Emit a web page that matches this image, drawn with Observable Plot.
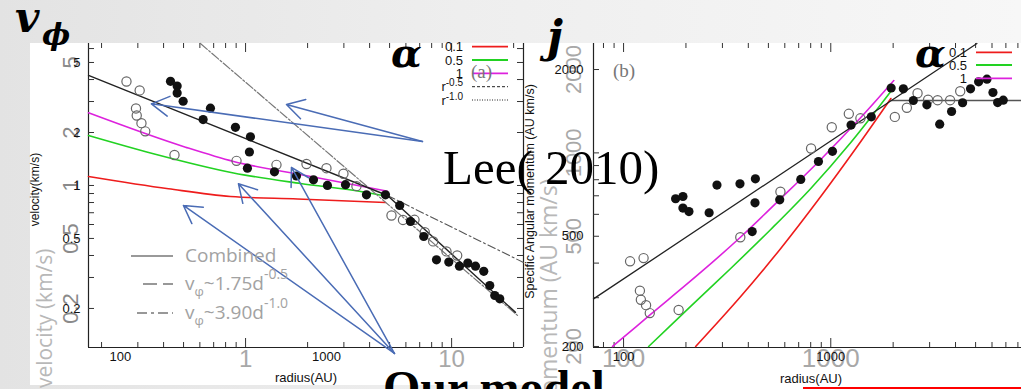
<!DOCTYPE html>
<html>
<head>
<meta charset="utf-8">
<script src="https://cdn.jsdelivr.net/npm/d3@7"></script>
<script src="https://cdn.jsdelivr.net/npm/@observablehq/plot@0.6"></script>
<style>
  html, body { margin: 0; padding: 0; }
  body { width: 1021px; height: 389px; overflow: hidden;
         background: linear-gradient(to right, #e3e3e3 0%, #eeeeee 45%, #f7f7f7 100%); }
  #stage { position: relative; width: 1021px; height: 389px; overflow: hidden; }
  .sheet { position: absolute; background: #fff; }
  .chart { position: absolute; top: 0; }
  .chart svg { overflow: visible; max-width: none; }
  #overlay { position: absolute; left: 0; top: 0; overflow: visible; }
</style>
</head>
<body>
<div id="stage">
  <div class="sheet" style="left:30px;top:43px;width:493px;height:342px"></div>
  <div class="sheet" style="left:523px;top:43px;width:498px;height:346px"></div>
  <div id="chartA" class="chart" style="left:0;width:540px;height:389px"></div>
  <div id="chartB" class="chart" style="left:520px;width:520px;height:389px"></div>
  <svg id="overlay" width="1021" height="389"></svg>
</div>
<script>
// ---------- shared ----------
const alphaLabels = ["0.1", "0.5", "1"];
const alphaColors = ["#ee1c1c", "#22d222", "#dd22dd"];
const ghostUnit = 405;               // AU per unit of the superimposed radius axis
const ghostXLabels = [1, 10];

// ---------- panel (a): rotation velocity (km/s) vs radius (AU) ----------
const velOpenR = [107, 124, 119, 120, 126.5, 132, 183, 366, 572, 800, 1000, 1209, 1398, 2068, 2352, 2675, 3001, 3296, 3824, 4310];
const velOpenV = [3.90, 3.47, 2.74, 2.50, 2.26, 2.03, 1.49, 1.38, 1.31, 1.325, 1.254, 1.166, 0.991, 0.675, 0.637, 0.638, 0.543, 0.481, 0.422, 0.400];
const velFilledR = [175, 188.5, 188.5, 201.6, 273.5, 252, 361.6, 427.6, 422.8, 413.4, 559.2, 715.1, 864.9, 1011, 1237, 1564, 1934, 2267, 2557, 2967, 3420, 3924, 4421, 4852, 5289, 5801, 6204, 6561, 6937];
const velFilledV = [3.91, 3.67, 3.35, 3.01, 2.75, 2.37, 2.14, 1.89, 1.55, 1.254, 1.196, 1.132, 1.077, 1.0, 1.01, 0.885, 0.885, 0.770, 0.624, 0.513, 0.378, 0.367, 0.348, 0.362, 0.348, 0.325, 0.270, 0.237, 0.227];
const velA01R = [70, 171, 342, 723, 1934];
const velA01V = [1.125, 0.958, 0.866, 0.838, 0.80];
const velA05R = [70, 143, 354, 748, 1512, 1978];
const velA05V = [1.923, 1.52, 1.178, 1.026, 0.919, 0.866];
const velA1R = [70, 207, 354, 791, 1971];
const velA1V = [2.59, 1.651, 1.369, 1.14, 0.928];
const velCombinedR = [70, 1978, 8268];
const velCombinedV = [4.22, 0.877, 0.190];
const velPow10R = [244.5, 8455];
const velPow10V = [6.41, 0.1826];
const velPow05R = [1978, 9044];
const velPow05V = [0.877, 0.365];
const velTickLabels = [5, 2, 1, 0.5, 0.2];
const velXLabels = [100, 1000];
// annotation arrows (tail -> head), in panel (a) data units
const arrowFromR = [2924, 2924, 2138, 2138, 2138];
const arrowFromV = [1.778, 1.778, 0.111, 0.111, 0.111];
const arrowToR = [141.4, 639.5, 202.2, 374, 676.3];
const arrowToV = [2.91, 2.885, 0.770, 1.022, 1.266];

// ---------- panel (b): specific angular momentum (AU km/s) vs radius (AU) ----------
const jOpenR = [107.5, 124.9, 119.9, 121.2, 128.4, 133.8, 184.4, 365.9, 571.5, 803.3, 1011, 1222, 1390, 2038, 2329, 2623, 2949, 3278, 3765, 4214];
const jOpenJ = [406, 417, 318, 295, 282, 264, 271, 496, 724, 1037, 1238, 1384, 1333, 1349, 1455, 1642, 1556, 1550, 1550, 1670];
const jFilledR = [178.3, 193.4, 193.4, 206.8, 258.8, 282.3, 364.6, 432.7, 430.8, 417.6, 567.1, 716.3, 872.1, 1019, 1253, 1569, 1956, 2240, 2503, 2910, 3355, 3829, 4327, 4726, 5170, 5670, 6062, 6388, 6799];
const jFilledJ = [683, 696, 632, 614, 608, 765, 773, 806, 660, 520, 677, 802, 931, 1013, 1260, 1350, 1715, 1704, 1546, 1491, 1270, 1411, 1517, 1704, 1806, 1845, 1652, 1520, 1550];
const jA01R = [222.8, 367.5, 573.5, 894.5, 1320.5, 1950];
const jA01J = [200, 303, 452, 696, 1037, 1572];
const jA05R = [132.1, 210.7, 328.8, 513.1, 800.8, 1249, 2015];
const jA05J = [200, 279, 382.5, 529, 744, 1090, 1722];
const jA1R = [88.5, 135, 235.5, 367.5, 573.5, 894.5, 1396, 2015];
const jA1J = [200, 261, 370, 497, 684, 947, 1342, 1825];
const jFitR = [71.6, 5074];
const jFitJ = [297, 2483];
const jFlatR = [1956, 9000];
const jFlatJ = [1546, 1546];
const jTickLabels = [2000, 500, 200];
const jGhostLabels = [2000, 1000, 500, 200];
const jXLabels = [100, 1000];

const sans = "'Liberation Sans', Arial, sans-serif";
const isDecade = v => Math.abs(Math.log10(v) - Math.round(Math.log10(v))) < 1e-9;

// ---------- draw panel (a) ----------
{
  const xDom = [70, 9044], yDom = [0.12, 6.41];
  const W = 435, H = 304;
  const gx = d3.scaleLog().domain([xDom[0] / ghostUnit, xDom[1] / ghostUnit]).ticks().map(u => u * ghostUnit);
  const gxMajor = gx.filter(v => isDecade(v / ghostUnit));
  const gxMinor = gx.filter(v => !isDecade(v / ghostUnit));
  const yt = d3.scaleLog().domain(yDom).ticks();
  const series = [[velA01R, velA01V], [velA05R, velA05V], [velA1R, velA1V]];

  const plotA = Plot.plot({
    width: 540, height: 389,
    marginLeft: 88, marginRight: 17, marginTop: 43, marginBottom: 42,
    style: { background: "transparent", fontFamily: sans, overflow: "visible" },
    x: { type: "log", domain: xDom, axis: null },
    y: { type: "log", domain: yDom, axis: null },
    marks: [
      // frame
      Plot.ruleX([xDom[0], xDom[1]], { stroke: "#222", strokeWidth: 1.2 }),
      Plot.ruleY([yDom[0]], { stroke: "#222", strokeWidth: 1.2 }),
      Plot.tickX(gxMinor, { x: d => d, insetTop: H - 5, stroke: "#333" }),
      Plot.tickX(gxMajor, { x: d => d, insetTop: H - 9, stroke: "#333" }),
      Plot.tickX(gxMinor, { x: d => d, insetBottom: H - 5, stroke: "#333" }),
      Plot.tickX(gxMajor, { x: d => d, insetBottom: H - 9, stroke: "#333" }),
      Plot.tickY(yt, { y: d => d, insetRight: W - 6, stroke: "#333" }),
      Plot.tickY(yt, { y: d => d, insetLeft: W - 6, stroke: "#333" }),
      // tick labels (rotated grey copy underneath)
      Plot.text(velTickLabels, { y: d => d, text: d => String(d), frameAnchor: "left", dx: -18, rotate: -90, textAnchor: "middle", fontSize: 22, fill: "#8a8a8a" }),
      Plot.text(velTickLabels, { y: d => d, text: d => String(d), frameAnchor: "left", dx: -8, textAnchor: "end", fontSize: 13, fill: "#111" }),
      Plot.text(ghostXLabels, { x: d => d * ghostUnit, text: d => String(d), frameAnchor: "bottom", dy: 19, fontSize: 24, fill: "#a8a8a8" }),
      Plot.text(velXLabels, { x: d => d, text: d => String(d), frameAnchor: "bottom", dy: 13, fontSize: 13, fill: "#111" }),
      Plot.text(["radius(AU)"], { text: d => d, frameAnchor: "bottom", dy: 34, fontSize: 13, fill: "#111" }),
      Plot.text(["velocity (km/s)"], { text: d => d, frameAnchor: "left", dx: -43, dy: 53, rotate: -90, textAnchor: "end", fontSize: 21, fill: "#b8b8b8", fontFamily: "'Open Sans', sans-serif" }),
      Plot.text(["velocity(km/s)"], { text: d => d, frameAnchor: "left", dx: -53, dy: -6, rotate: -90, textAnchor: "middle", fontSize: 12, fill: "#111" }),
      // model curves
      ...series.map(([r, v], i) => Plot.line(d3.zip(r, v), { stroke: alphaColors[i], strokeWidth: 1.6, curve: "monotone-x" })),
      // power laws
      Plot.line(d3.zip(velPow10R, velPow10V), { stroke: "#777", strokeWidth: 1.2, strokeDasharray: "9 2 2 2" }),
      Plot.line(d3.zip(velPow05R, velPow05V), { stroke: "#555", strokeWidth: 1.1, strokeDasharray: "8 3 2 3" }),
      Plot.line(d3.zip(velCombinedR, velCombinedV), { stroke: "#222", strokeWidth: 1.4 }),
      // observations
      Plot.dot(d3.zip(velOpenR, velOpenV), { r: 4.6, stroke: "#666", strokeWidth: 1.2, fill: "none" }),
      Plot.dot(d3.zip(velFilledR, velFilledV), { r: 4.6, fill: "#111", stroke: "none" }),
      // annotation arrows
      Plot.arrow(d3.range(arrowFromR.length), {
        x1: i => arrowFromR[i], y1: i => arrowFromV[i], x2: i => arrowToR[i], y2: i => arrowToV[i],
        stroke: "#4a6cb5", strokeWidth: 1.5, headLength: 20, headAngle: 60
      })
    ]
  });
  document.getElementById("chartA").append(plotA);
}

// ---------- draw panel (b) ----------
{
  const xDom = [71.6, 9000], yDom = [198.3, 2483];
  const W = 435, H = 304;
  const xt = d3.scaleLog().domain(xDom).ticks();
  const xMajor = xt.filter(isDecade), xMinor = xt.filter(v => !isDecade(v));
  const yt = d3.scaleLog().domain(yDom).ticks();
  const series = [[jA01R, jA01J], [jA05R, jA05J], [jA1R, jA1J]];

  const plotB = Plot.plot({
    width: 520, height: 389,
    marginLeft: 73, marginRight: 12, marginTop: 43, marginBottom: 42,
    style: { background: "transparent", fontFamily: sans, overflow: "visible" },
    x: { type: "log", domain: xDom, axis: null },
    y: { type: "log", domain: yDom, axis: null },
    marks: [
      Plot.ruleX([xDom[0]], { stroke: "#222", strokeWidth: 1.2 }),
      Plot.ruleY([yDom[0]], { stroke: "#222", strokeWidth: 1.2 }),
      Plot.tickX(xMinor, { x: d => d, insetTop: H - 5, stroke: "#333" }),
      Plot.tickX(xMajor, { x: d => d, insetTop: H - 9, stroke: "#333" }),
      Plot.tickX(xMinor, { x: d => d, insetBottom: H - 5, stroke: "#333" }),
      Plot.tickX(xMajor, { x: d => d, insetBottom: H - 9, stroke: "#333" }),
      Plot.tickY(yt, { y: d => d, insetRight: W - 6, stroke: "#333" }),
      // tick labels
      Plot.text(jGhostLabels, { y: d => d, text: d => String(d), frameAnchor: "left", dx: -20, rotate: -90, textAnchor: "middle", fontSize: 22, fill: "#a8a8a8" }),
      Plot.text(jTickLabels, { y: d => d, text: d => String(d), frameAnchor: "left", dx: -10, textAnchor: "end", fontSize: 13, fill: "#111" }),
      Plot.text(jXLabels, { x: d => d, text: d => String(d), frameAnchor: "bottom", dy: 19, fontSize: 26, fill: "#a8a8a8" }),
      Plot.text(jXLabels, { x: d => d, text: d => String(d), frameAnchor: "bottom", dy: 13, fontSize: 13, fill: "#111" }),
      Plot.text(["radius(AU)"], { text: d => d, frameAnchor: "bottom", dy: 35, fontSize: 13, fill: "#111" }),
      Plot.text(["Specific Angular momentum (AU km/s)"], { text: d => d, frameAnchor: "left", dx: -44, dy: -17, rotate: -90, textAnchor: "end", fontSize: 23, fill: "#b8b8b8", fontFamily: "'Open Sans', sans-serif" }),
      Plot.text(["Specific Angular momentum (AU km/s)"], { text: d => d, frameAnchor: "left", dx: -64, dy: -4, rotate: -90, textAnchor: "middle", fontSize: 12.5, fill: "#111" }),
      // model curves
      ...series.map(([r, j], i) => Plot.line(d3.zip(r, j), { stroke: alphaColors[i], strokeWidth: 1.6, curve: "catmull-rom" })),
      // fits
      Plot.line(d3.zip(jFlatR, jFlatJ), { stroke: "#555", strokeWidth: 1.6 }),
      Plot.line(d3.zip(jFitR, jFitJ), { stroke: "#222", strokeWidth: 1.3 }),
      // observations
      Plot.dot(d3.zip(jOpenR, jOpenJ), { r: 4.6, stroke: "#666", strokeWidth: 1.2, fill: "none" }),
      Plot.dot(d3.zip(jFilledR, jFilledJ), { r: 4.6, fill: "#111", stroke: "none" })
    ]
  });
  document.getElementById("chartB").append(plotB);
}

// ---------- legends and slide annotations ----------
{
  const ov = d3.select("#overlay");

  // alpha legend of a panel: right-aligned labels with short coloured samples
  function alphaLegend(textX, x1, x2, rows) {
    const g = ov.append("g").attr("font-family", sans).attr("font-size", 13);
    alphaLabels.forEach((lab, i) => {
      g.append("text").attr("x", textX).attr("y", rows[i] + 4.5).attr("text-anchor", "end").attr("fill", "#111").text(lab);
      g.append("line").attr("x1", x1).attr("x2", x2).attr("y1", rows[i]).attr("y2", rows[i])
        .attr("stroke", alphaColors[i]).attr("stroke-width", 1.8);
    });
    return g;
  }
  const gA = alphaLegend(463, 472, 508, [46.7, 60, 73.3]);
  // power-law entries of panel (a)
  const powLabels = ["-0.5", "-1.0"];
  const powDash = ["3 2", "1 1.5"];
  [86.7, 100].forEach((y, i) => {
    const t = gA.append("text").attr("x", 463).attr("y", y + 4.5).attr("text-anchor", "end").attr("fill", "#111");
    t.append("tspan").text("r");
    t.append("tspan").attr("dy", -5).attr("font-size", 10).text(powLabels[i]);
    gA.append("line").attr("x1", 472).attr("x2", 508).attr("y1", y).attr("y2", y)
      .attr("stroke", "#222").attr("stroke-width", 1).attr("stroke-dasharray", powDash[i]);
  });
  alphaLegend(967, 976, 1012, [52.3, 65, 78.3]);

  // panel letters
  ov.append("text").attr("x", 471).attr("y", 78).attr("font-family", "'Liberation Serif', serif").attr("font-size", 19).attr("fill", "#777").text("(a)");
  ov.append("text").attr("x", 613).attr("y", 77).attr("font-family", "'Liberation Serif', serif").attr("font-size", 19).attr("fill", "#777").text("(b)");

  // model legend (grey)
  const modelCoef = ["1.75", "3.90"];
  const modelExp = ["-0.5", "-1.0"];
  const gM = ov.append("g").attr("font-family", "'Open Sans', sans-serif").attr("font-size", 19).attr("fill", "#a2a2a2");
  gM.append("line").attr("x1", 131).attr("x2", 173).attr("y1", 256).attr("y2", 256).attr("stroke", "#777").attr("stroke-width", 1.5);
  gM.append("text").attr("x", 185).attr("y", 262).text("Combined");
  const dashes = ["14 6", "10 4 3 4"];
  const lineStart = [143, 137];
  [284, 313].forEach((y, i) => {
    gM.append("line").attr("x1", lineStart[i]).attr("x2", 173).attr("y1", y).attr("y2", y)
      .attr("stroke", "#777").attr("stroke-width", 1.5).attr("stroke-dasharray", dashes[i]);
    const t = gM.append("text").attr("x", 185).attr("y", y + 6);
    t.append("tspan").text("v");
    t.append("tspan").attr("dy", 6).attr("font-size", 13).text("\u03c6");
    t.append("tspan").attr("dy", -6).text("~" + modelCoef[i] + "d");
    t.append("tspan").attr("dy", -11).attr("font-size", 14).text(modelExp[i]);
  });

  // slide headings
  const math = g => g.attr("font-family", "'DejaVu Serif', serif").attr("font-style", "italic").attr("font-weight", "bold").attr("fill", "#000");
  math(ov.append("text").attr("x", 15).attr("y", 32).attr("font-size", 42).text("v"));
  math(ov.append("text").attr("x", 42).attr("y", 45).attr("font-size", 30).text("\u03d5"));
  math(ov.append("text").attr("x", 391).attr("y", 67).attr("font-size", 40).text("\u03b1"));
  math(ov.append("text").attr("x", 915).attr("y", 67).attr("font-size", 40).text("\u03b1"));
  math(ov.append("text").attr("x", 547).attr("y", 52).attr("font-size", 44).text("j"));
  ov.append("text").attr("x", 443).attr("y", 184).attr("font-family", "'Liberation Serif', serif")
    .attr("font-size", 49).attr("fill", "#000").text("Lee( 2010)");
  ov.append("text").attr("x", 383).attr("y", 404).attr("font-family", "'Liberation Serif', serif")
    .attr("font-weight", "bold").attr("font-size", 48).attr("fill", "#000").text("Our model");
  ov.append("line").attr("x1", 803).attr("x2", 1021).attr("y1", 388).attr("y2", 388).attr("stroke", "#ff0000").attr("stroke-width", 2);
}
</script>
</body>
</html>
